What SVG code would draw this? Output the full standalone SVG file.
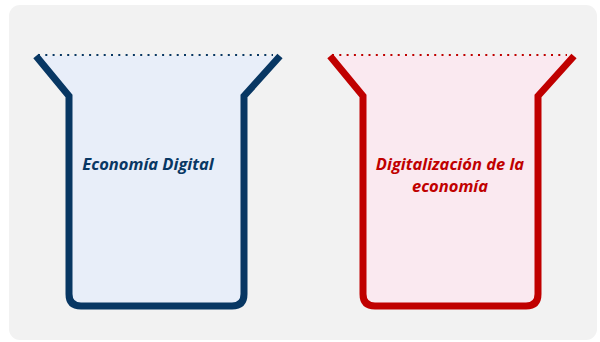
<svg xmlns="http://www.w3.org/2000/svg" width="600" height="342" viewBox="0 0 600 342">
<style>
.vessel{stroke-width:7;stroke-linejoin:miter;fill-rule:nonzero}
.blue{stroke:#083763;fill:#e8eef9}
.red{stroke:#c00000;fill:#fae9f0}
.dot{fill:none;stroke-width:2;stroke-dasharray:2 5.3}
.lbl{font-family:"Open Sans","Liberation Sans",sans-serif;font-style:italic;font-weight:bold;font-size:16.5px;text-anchor:middle}
</style>
<rect x="9" y="5" width="588" height="335" rx="11" fill="#f2f2f2"/>
<g id="economia-digital">
<path class="vessel blue" d="M36,56 L69,96 L69,294 Q69,306 81,306 L232,306 Q244,306 244,294 L244,96 L280,56"/>
<line class="dot" x1="38" y1="55" x2="273" y2="55" stroke="#083763"/>
<text class="lbl" x="148" y="170" fill="#083763">Economía Digital</text>
</g>
<g id="digitalizacion">
<path class="vessel red" d="M330,56 L363,96 L363,294 Q363,306 375,306 L526,306 Q538,306 538,294 L538,96 L574,56"/>
<line class="dot" x1="332" y1="55" x2="567" y2="55" stroke="#c00000"/>
<text class="lbl" x="450" y="170" fill="#c00000">Digitalización de la</text>
<text class="lbl" x="450" y="192" fill="#c00000">economía</text>
</g>
<g id="connectors"/>
</svg>
